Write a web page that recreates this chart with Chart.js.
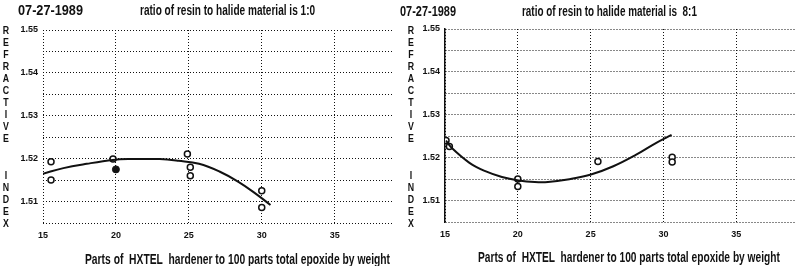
<!DOCTYPE html>
<html>
<head>
<meta charset="utf-8">
<script src="https://cdn.jsdelivr.net/npm/chart.js@4"></script>
<style>
  html, body { margin: 0; padding: 0; background: #fff; }
  body { width: 800px; height: 266px; position: relative; overflow: hidden;
         font-family: 'Liberation Sans', Arial, sans-serif; color: #111; }
  .panel { position: absolute; top: 0; width: 400px; height: 266px; }
  .txt { position: absolute; white-space: pre; font-weight: bold; transform-origin: 0 0; }
  .date { font-size: 15px; line-height: 15px; }
  .ratio { font-size: 14px; line-height: 14px; }
  .xt { font-size: 15px; line-height: 15px; }
  .vlab { position: absolute; width: 10px; text-align: center; font-weight: bold; font-size: 11px; line-height: 12px;
          transform: scaleX(0.8); }
</style>
</head>
<body>
<div class="panel" style="left:0"><canvas id="left"></canvas></div>
<div class="panel" style="left:400px"><canvas id="right"></canvas></div>

<div class="txt date" data-w="65" style="left:18px;top:2px">07-27-1989</div>
<div class="txt ratio" data-w="175" style="left:140px;top:3px">ratio of resin to halide material is 1:0</div>
<div class="txt date" data-w="56" style="left:400px;top:3px">07-27-1989</div>
<div class="txt ratio" data-w="175" style="left:522px;top:4px">ratio of resin to halide material is  8:1</div>
<div class="txt xt" data-w="305" style="left:85px;top:251px">Parts of  HXTEL  hardener to 100 parts total epoxide by weight</div>
<div class="txt xt" data-w="302" style="left:478px;top:249px">Parts of  HXTEL  hardener to 100 parts total epoxide by weight</div>
<div class="vlab" style="left:1px;top:24px">R<br>E<br>F<br>R<br>A<br>C<br>T<br>I<br>V<br>E</div>
<div class="vlab" style="left:1px;top:169px">I<br>N<br>D<br>E<br>X</div>
<div class="vlab" style="left:406px;top:24px">R<br>E<br>F<br>R<br>A<br>C<br>T<br>I<br>V<br>E</div>
<div class="vlab" style="left:406px;top:169px">I<br>N<br>D<br>E<br>X</div>

<script>
// Refractive index vs. HXTEL hardener content, two resin/halide ratios.

const xTicks = [15, 20, 25, 30, 35];
const yGrid = [1.505, 1.51, 1.515, 1.52, 1.525, 1.53, 1.535, 1.54, 1.545, 1.55];
const yLabels = ['', '1.51', '', '1.52', '', '1.53', '', '1.54', '', '1.55'];

// ratio 1:0
const leftCurveX = [15, 16.4, 18.0, 19.8, 20.9, 23.0, 24.3, 25.7, 27.1, 28.4, 29.6, 30.6];
const leftCurveY = [1.5165, 1.5178, 1.5188, 1.5197, 1.5199, 1.5199, 1.5195, 1.5188, 1.5170, 1.5146, 1.5118, 1.5092];
const leftOpenX = [15.55, 15.55, 19.8, 24.9, 25.1, 25.1, 30.0, 30.0];
const leftOpenY = [1.5193, 1.5150, 1.5199, 1.5211, 1.5180, 1.5160, 1.5125, 1.5086];
const leftFilledX = [20.0];
const leftFilledY = [1.5175];

// ratio 8:1
const rightCurveX = [15.07, 15.45, 16.68, 17.81, 18.91, 20.05, 21.17, 22.07, 23.42, 24.97, 26.56, 28.13, 29.48, 30.56];
const rightCurveY = [1.5240, 1.5223, 1.5188, 1.5168, 1.5155, 1.5147, 1.5143, 1.5143, 1.5149, 1.5160, 1.5180, 1.5207, 1.5234, 1.5253];
const rightOpenX = [15.07, 15.3, 20.0, 20.0, 25.5, 30.6, 30.6];
const rightOpenY = [1.5240, 1.5226, 1.5150, 1.5133, 1.5191, 1.5201, 1.5190];

const INK = '#111';
const FAMILY = "'Liberation Sans', Arial, sans-serif";

// squeeze the heading texts to the narrow widths of the original print
document.querySelectorAll('.txt').forEach((el) => {
  const w = el.getBoundingClientRect().width;
  el.style.transform = `scaleX(${(+el.dataset.w / w).toFixed(3)})`;
});

function pts(xs, ys) {
  return xs.map((x, i) => ({ x, y: ys[i] }));
}

function makeChart(id, curve, open, filled, box) {
  const datasets = [
    { data: curve, showLine: true, borderColor: INK, borderWidth: 2, pointRadius: 0, tension: 0.4 },
    { data: open, showLine: false, pointRadius: 3, borderWidth: 1.5, borderColor: INK, backgroundColor: '#fff' },
  ];
  if (filled.length) {
    datasets.push({ data: filled, showLine: false, pointRadius: 3.5, borderWidth: 1, borderColor: INK, backgroundColor: INK });
  }
  return new Chart(document.getElementById(id), {
    type: 'scatter',
    data: { datasets },
    options: {
      responsive: true,
      maintainAspectRatio: false,
      animation: false,
      layout: { padding: { top: box.top, right: box.right, left: 0, bottom: 0 } },
      plugins: { legend: { display: false }, tooltip: { enabled: false } },
      scales: {
        x: {
          type: 'linear', min: 15, max: 39,
          afterBuildTicks: (s) => { s.ticks = xTicks.map((v) => ({ value: v })); },
          afterFit: (s) => { s.height = box.xh; },
          grid: { color: INK, lineWidth: 1, drawTicks: false },
          border: { display: false, dash: [1, 2] },
          ticks: { color: INK, padding: 7, font: { family: FAMILY, size: 9, weight: 'bold' }, maxRotation: 0 },
        },
        y: {
          type: 'linear', min: 1.505, max: 1.55,
          afterBuildTicks: (s) => { s.ticks = yGrid.map((v) => ({ value: v })); },
          afterFit: (s) => { s.width = box.yw; },
          grid: { color: INK, lineWidth: 1, drawTicks: false },
          border: { display: box.solidAxis, color: INK, width: 1.5, dash: [1, 2] },
          ticks: {
            color: INK, padding: 5, font: { family: FAMILY, size: 9, weight: 'bold' },
            callback: (v, i) => yLabels[i],
          },
        },
      },
    },
  });
}

makeChart('left', pts(leftCurveX, leftCurveY), pts(leftOpenX, leftOpenY), pts(leftFilledX, leftFilledY),
  { top: 30, right: 7, yw: 43, xh: 43, solidAxis: false });
makeChart('right', pts(rightCurveX, rightCurveY), pts(rightOpenX, rightOpenY), [],
  { top: 29, right: 0, yw: 45, xh: 44, solidAxis: true });
</script>
</body>
</html>
